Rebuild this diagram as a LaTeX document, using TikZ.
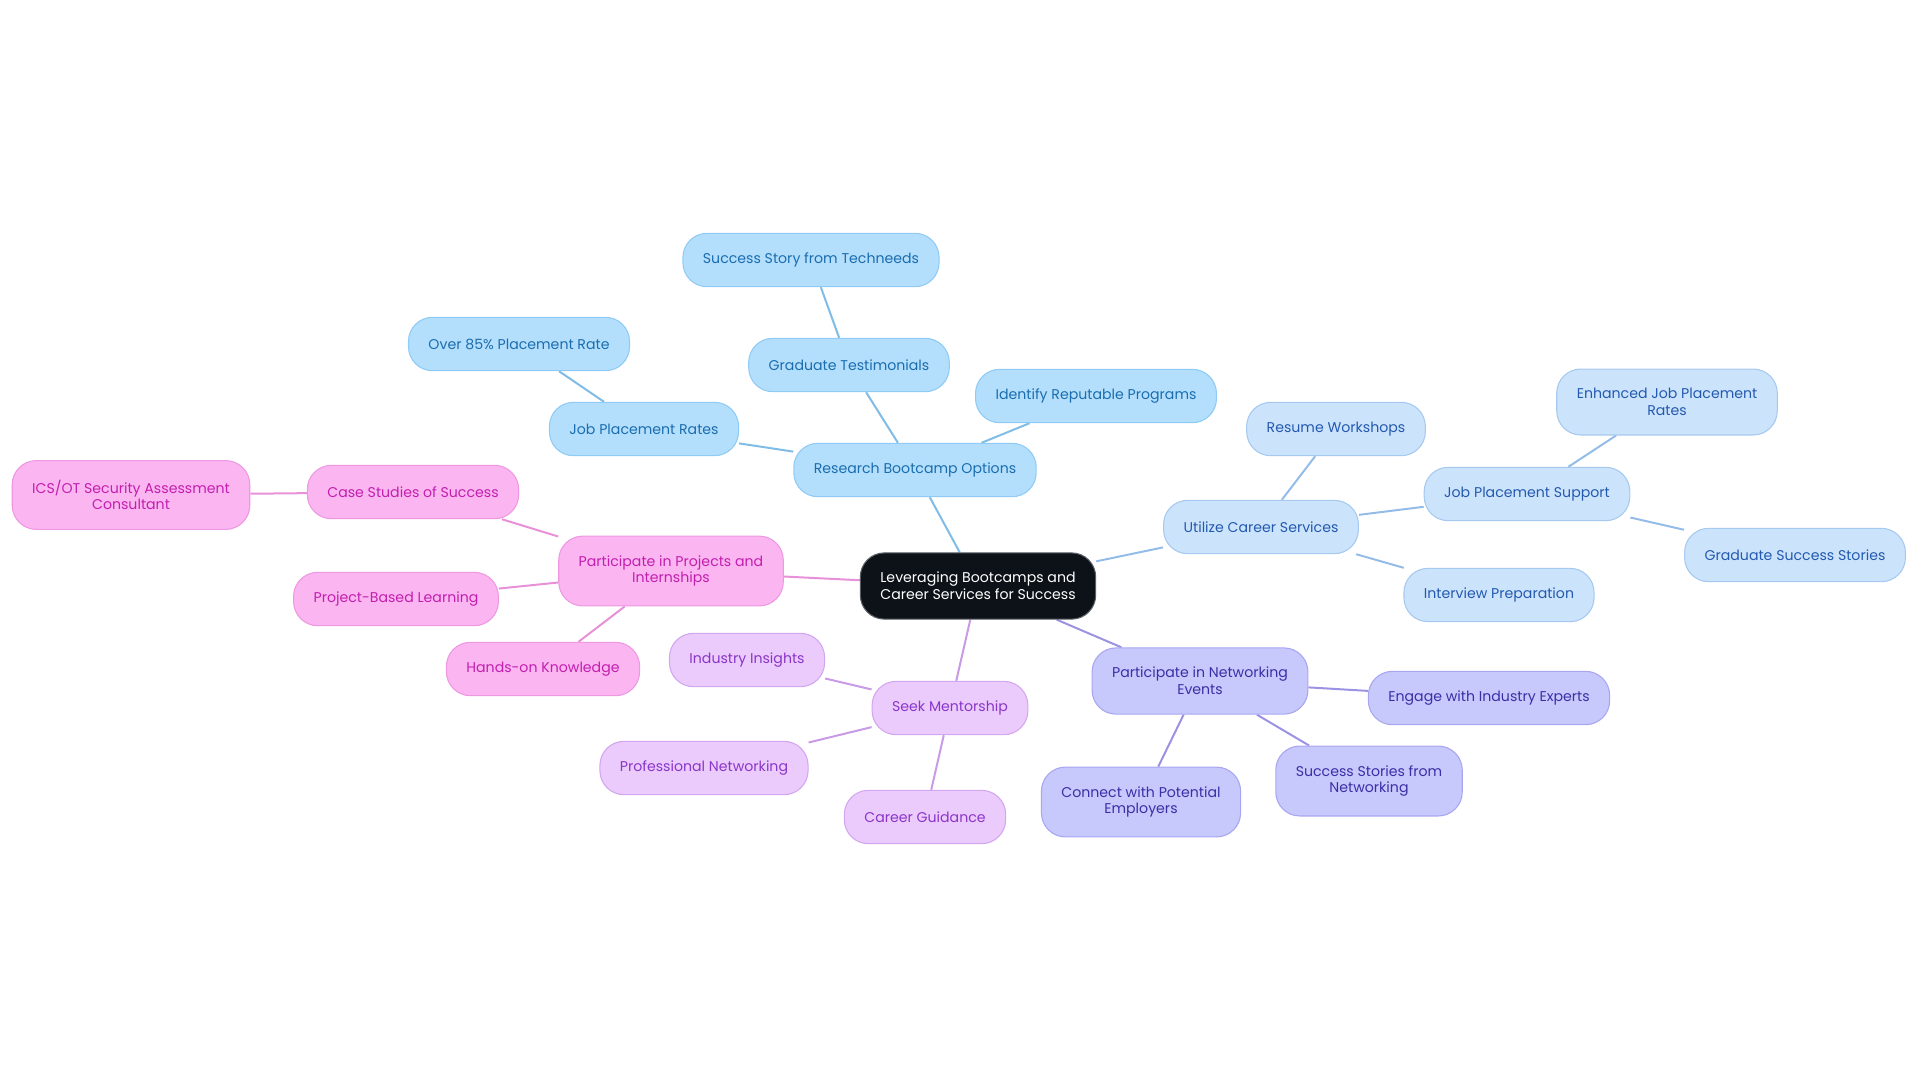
\documentclass[tikz,border=0pt]{standalone}
\usepackage{fontspec}
\setmainfont{Poppins}
\usepackage{tikz}
\usetikzlibrary{backgrounds}
\definecolor{hubfill}{HTML}{0D1218}
\definecolor{hubline}{HTML}{5A5F66}
\definecolor{rsfill}{HTML}{B4DFFC}
\definecolor{rsline}{HTML}{8FCBF5}
\definecolor{rstext}{HTML}{1A6DAF}
\definecolor{rsedge}{HTML}{7FBDE6}
\definecolor{csfill}{HTML}{CCE4FB}
\definecolor{csline}{HTML}{A6C9F0}
\definecolor{cstext}{HTML}{2459B0}
\definecolor{csedge}{HTML}{94BCE8}
\definecolor{nwfill}{HTML}{C7C8FC}
\definecolor{nwline}{HTML}{A8A6F0}
\definecolor{nwtext}{HTML}{3B2FA6}
\definecolor{nwedge}{HTML}{9C92E4}
\definecolor{mtfill}{HTML}{EBCAFC}
\definecolor{mtline}{HTML}{D3A6F0}
\definecolor{mttext}{HTML}{8A36C8}
\definecolor{mtedge}{HTML}{C99BE6}
\definecolor{pjfill}{HTML}{FBB5F1}
\definecolor{pjline}{HTML}{EE98E2}
\definecolor{pjtext}{HTML}{C21FAE}
\definecolor{pjedge}{HTML}{E890D8}

\begin{document}
\begin{tikzpicture}[x=0.75pt, y=-0.75pt,
    box/.style={rounded corners=18pt, minimum height=40pt, inner xsep=15pt, inner ysep=14.5pt,
                align=center, line width=0.8pt, font=\fontsize{10.6}{12.5}\selectfont},
    hub/.style={box, fill=hubfill, draw=hubline, text=white},
    rsbox/.style={box, fill=rsfill, draw=rsline, text=rstext},
    csbox/.style={box, fill=csfill, draw=csline, text=cstext},
    nwbox/.style={box, fill=nwfill, draw=nwline, text=nwtext},
    mtbox/.style={box, fill=mtfill, draw=mtline, text=mttext},
    pjbox/.style={box, fill=pjfill, draw=pjline, text=pjtext},
    link/.style={line width=1.5pt}]
\useasboundingbox (0,0) rectangle (1920,1083);

% Central topic
\node[hub] (hub) at (978,586) {Leveraging Bootcamps and\\Career Services for Success};

% Research branch
\node[rsbox] (research) at (915,470) {Research Bootcamp Options};
\node[rsbox] (testimonials) at (849,365) {Graduate Testimonials};
\node[rsbox] (techneeds) at (811,260) {Success Story from Techneeds};
\node[rsbox] (rates) at (644,429) {Job Placement Rates};
\node[rsbox] (over85) at (519,344) {Over 85\% Placement Rate};
\node[rsbox] (reputable) at (1096,396) {Identify Reputable Programs};

% Career services branch
\node[csbox] (career) at (1261,527) {Utilize Career Services};
\node[csbox] (resume) at (1336,429) {Resume Workshops};
\node[csbox] (support) at (1527,494) {Job Placement Support};
\node[csbox] (enhanced) at (1667,402) {Enhanced Job Placement\\Rates};
\node[csbox] (stories) at (1795,555) {Graduate Success Stories};
\node[csbox] (interview) at (1499,595) {Interview Preparation};

% Networking branch
\node[nwbox] (network) at (1200,681) {Participate in Networking\\Events};
\node[nwbox] (experts) at (1489,698) {Engage with Industry Experts};
\node[nwbox] (nwstories) at (1369,781) {Success Stories from\\Networking};
\node[nwbox] (employers) at (1141,802) {Connect with Potential\\Employers};

% Mentorship branch
\node[mtbox] (mentor) at (950,708) {Seek Mentorship};
\node[mtbox] (insights) at (747,660) {Industry Insights};
\node[mtbox] (profnet) at (704,768) {Professional Networking};
\node[mtbox] (guidance) at (925,817) {Career Guidance};

% Projects branch
\node[pjbox] (projects) at (671,571) {Participate in Projects and\\Internships};
\node[pjbox] (cases) at (413,492) {Case Studies of Success};
\node[pjbox] (icsot) at (131,495) {ICS/OT Security Assessment\\Consultant};
\node[pjbox] (pbl) at (396,599) {Project-Based Learning};
\node[pjbox] (handson) at (543,669) {Hands-on Knowledge};

% Connectors
\begin{scope}[on background layer]
\foreach \a/\b in {hub/research, research/testimonials, testimonials/techneeds,
                   research/rates, rates/over85, research/reputable} {
    \draw[link, rsedge] (\a) -- (\b);
}
\foreach \a/\b in {hub/career, career/resume, career/support, support/enhanced,
                   support/stories, career/interview} {
    \draw[link, csedge] (\a) -- (\b);
}
\foreach \a/\b in {hub/network, network/experts, network/nwstories, network/employers} {
    \draw[link, nwedge] (\a) -- (\b);
}
\foreach \a/\b in {hub/mentor, mentor/insights, mentor/profnet, mentor/guidance} {
    \draw[link, mtedge] (\a) -- (\b);
}
\foreach \a/\b in {hub/projects, projects/cases, cases/icsot, projects/pbl, projects/handson} {
    \draw[link, pjedge] (\a) -- (\b);
}
\end{scope}
\end{tikzpicture}
\end{document}
